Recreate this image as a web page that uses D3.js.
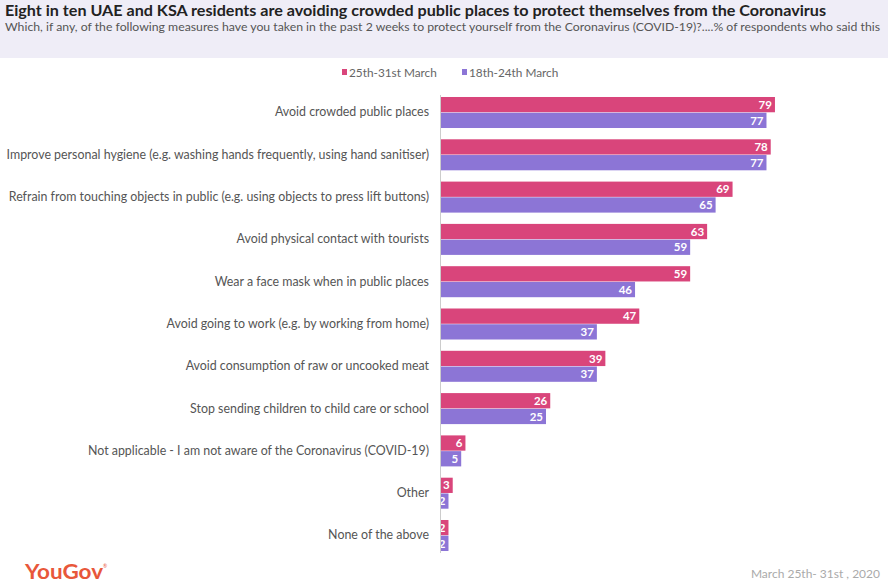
<!DOCTYPE html>
<html><head><meta charset="utf-8">
<script src="https://cdn.jsdelivr.net/npm/d3@7"></script>
<style>body{margin:0;background:#fff;} svg{display:block;font-family:Lato,"Open Sans",sans-serif;}</style>
</head><body>
<svg id="c" width="888" height="585"></svg>
<script>
const categories = [
  "Avoid crowded public places",
  "Improve personal hygiene (e.g. washing hands frequently, using hand sanitiser)",
  "Refrain from touching objects in public (e.g. using objects to press lift buttons)",
  "Avoid physical contact with tourists",
  "Wear a face mask when in public places",
  "Avoid going to work (e.g. by working from home)",
  "Avoid consumption of raw or uncooked meat",
  "Stop sending children to child care or school",
  "Not applicable - I am not aware of the Coronavirus (COVID-19)",
  "Other",
  "None of the above"
];
const seriesNames = ["25th-31st March", "18th-24th March"];
const march25 = [79, 78, 69, 63, 59, 47, 39, 26, 6, 3, 2];
const march18 = [77, 77, 65, 59, 46, 37, 37, 25, 5, 2, 2];
const colors = ["#d9457b", "#8c75d6"];

const svg = d3.select("#c");
// header band
svg.append("rect").attr("x",0).attr("y",0).attr("width",888).attr("height",58).attr("fill","#efedf7");
svg.append("text").attr("x",5).attr("y",15.5).attr("font-size",15).attr("font-weight","bold").attr("fill","#222")
  .attr("textLength",821).attr("lengthAdjust","spacingAndGlyphs")
  .text("Eight in ten UAE and KSA residents are avoiding crowded public places to protect themselves from the Coronavirus");
svg.append("text").attr("x",5).attr("y",31).attr("font-size",11.5).attr("fill","#555")
  .attr("textLength",875).attr("lengthAdjust","spacingAndGlyphs")
  .text("Which, if any, of the following measures have you taken in the past 2 weeks to protect yourself from the Coronavirus (COVID-19)?....% of respondents who said this");

// legend
const legX = [342, 462];
seriesNames.forEach((n,i)=>{
  svg.append("rect").attr("x",legX[i]).attr("y",69).attr("width",5).attr("height",6).attr("fill",colors[i]);
  svg.append("text").attr("x",legX[i]+7).attr("y",77).attr("font-size",11.8).attr("fill","#666").text(n);
});

const x = d3.scaleLinear().domain([0, 100]).range([440, 440 + 424]);
const y = d3.scaleBand().domain(categories).range([91.35, 556.65]).paddingInner(0.267).paddingOuter(0.1335);
const ys = d3.scaleBand().domain([0,1]).range([0, y.bandwidth()]).paddingInner(0.03);

const g = svg.append("g");
categories.forEach((c, i) => {
  [march25[i], march18[i]].forEach((v, s) => {
    const by = y(c) + ys(s);
    g.append("rect").attr("x", x(0)).attr("y", by).attr("width", x(v) - x(0)).attr("height", ys.bandwidth()).attr("fill", colors[s]);
    g.append("text").attr("x", x(v) - 3).attr("y", by + ys.bandwidth()/2).attr("dy","0.36em")
      .attr("text-anchor","end").attr("font-size",11.5).attr("font-weight","bold").attr("fill","#fff").text(v);
  });
});

// axis
const axis = d3.axisLeft(y).tickSize(0).tickPadding(11);
const ag = svg.append("g").attr("transform",`translate(${x(0)},0)`).call(axis);
ag.select(".domain").attr("stroke","#ccc").attr("d", `M0.5,95V553`);
ag.selectAll("text").attr("font-size",12.4).attr("fill","#555").attr("font-family","Lato,'Open Sans',sans-serif");

// footer
svg.append("text").attr("x",25).attr("y",579).attr("font-size",20).attr("font-weight","bold").attr("fill","#e8573a")
  .attr("textLength",78).attr("lengthAdjust","spacingAndGlyphs").text("YouGov");
svg.append("text").attr("x",103).attr("y",568).attr("font-size",5).attr("fill","#e8573a").text("®");
svg.append("text").attr("x",880).attr("y",578).attr("font-size",12).attr("fill","#aaa").attr("text-anchor","end").text("March 25th- 31st , 2020");
</script>
</body></html>
